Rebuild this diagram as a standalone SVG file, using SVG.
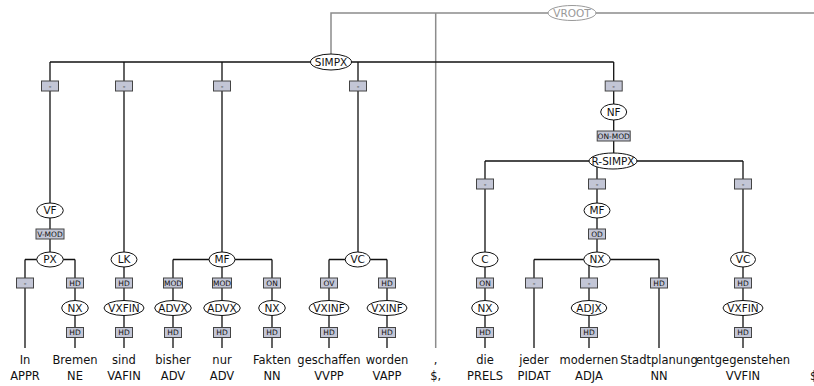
<svg xmlns="http://www.w3.org/2000/svg" width="814" height="386" viewBox="0 0 814 386">
<style>
.e{stroke:#111;stroke-width:1.3;fill:none}
.g{stroke:#8c8c8c;stroke-width:1.5;fill:none}
.n ellipse{fill:#fff;stroke:#111;stroke-width:1}
.n text{font-family:"DejaVu Sans",Verdana,sans-serif;font-size:10.5px;text-anchor:middle;fill:#111}
.v ellipse{fill:#fff;stroke:#999;stroke-width:1}
.v text{font-family:"DejaVu Sans",Verdana,sans-serif;font-size:10.5px;text-anchor:middle;fill:#999}
.b rect{fill:#c3c6d6;stroke:#444;stroke-width:1}
.b text{font-family:"DejaVu Sans",Verdana,sans-serif;font-size:7.5px;text-anchor:middle;fill:#111}
.w text{font-family:"DejaVu Sans",Verdana,sans-serif;font-size:11.5px;text-anchor:middle;fill:#111}
</style>
<rect width="814" height="386" fill="#fff"/>
<g id="connectors">
<path class="g" d="M331,62V13H817"/>
<path class="g" d="M435.7,13V348"/>
<path class="g" d="M817,13V348"/>
<path class="e" d="M50,62H613.7"/>
<path class="e" d="M50,62V259.5M124,62V348M222,62V259.5M358,62V259.5M613.7,62V161"/>
<path class="e" d="M25,259.5H75M25,259.5V348M75,259.5V348"/>
<path class="e" d="M173,259.5H272M173,259.5V348M222,259.5V348M272,259.5V348"/>
<path class="e" d="M329,259.5H387M329,259.5V348M387,259.5V348"/>
<path class="e" d="M485,161H743M485,161V348M597,161V259.5M743,161V348"/>
<path class="e" d="M534,259.5H659M534,259.5V348M589,259.5V348M659,259.5V348"/>
</g>
<g id="edge-labels" class="b">
<g id="l1"><rect x="41.5" y="81" width="17" height="10"/><text x="50" y="89">-</text></g>
<g id="l2"><rect x="115.5" y="81" width="17" height="10"/><text x="124" y="89">-</text></g>
<g id="l3"><rect x="213.5" y="81" width="17" height="10"/><text x="222" y="89">-</text></g>
<g id="l4"><rect x="349.5" y="81" width="17" height="10"/><text x="358" y="89">-</text></g>
<g id="l5"><rect x="605.2" y="81" width="17" height="10"/><text x="613.7" y="89">-</text></g>
<g id="l6"><rect x="597.2" y="131" width="33" height="10"/><text x="613.7" y="138.7">ON-MOD</text></g>
<g id="l7"><rect x="476.5" y="179" width="17" height="10"/><text x="485" y="187">-</text></g>
<g id="l8"><rect x="588.5" y="179" width="17" height="10"/><text x="597" y="187">-</text></g>
<g id="l9"><rect x="734.5" y="179" width="17" height="10"/><text x="743" y="187">-</text></g>
<g id="l10"><rect x="36" y="229" width="28" height="10"/><text x="50" y="236.7">V-MOD</text></g>
<g id="l11"><rect x="588.5" y="229" width="17" height="10"/><text x="597" y="236.7">OD</text></g>
<g id="l12"><rect x="16.5" y="278" width="17" height="10"/><text x="25" y="286">-</text></g>
<g id="l13"><rect x="66.5" y="278" width="17" height="10"/><text x="75" y="285.7">HD</text></g>
<g id="l14"><rect x="115.5" y="278" width="17" height="10"/><text x="124" y="285.7">HD</text></g>
<g id="l15"><rect x="163.5" y="278" width="19" height="10"/><text x="173" y="285.7">MOD</text></g>
<g id="l16"><rect x="212.5" y="278" width="19" height="10"/><text x="222" y="285.7">MOD</text></g>
<g id="l17"><rect x="263.5" y="278" width="17" height="10"/><text x="272" y="285.7">ON</text></g>
<g id="l18"><rect x="320.5" y="278" width="17" height="10"/><text x="329" y="285.7">OV</text></g>
<g id="l19"><rect x="378.5" y="278" width="17" height="10"/><text x="387" y="285.7">HD</text></g>
<g id="l20"><rect x="476.5" y="278" width="17" height="10"/><text x="485" y="285.7">ON</text></g>
<g id="l21"><rect x="525.5" y="278" width="17" height="10"/><text x="534" y="286">-</text></g>
<g id="l22"><rect x="580.5" y="278" width="17" height="10"/><text x="589" y="286">-</text></g>
<g id="l23"><rect x="650.5" y="278" width="17" height="10"/><text x="659" y="285.7">HD</text></g>
<g id="l24"><rect x="734.5" y="278" width="17" height="10"/><text x="743" y="285.7">HD</text></g>
<g id="l25"><rect x="66.5" y="327.5" width="17" height="10"/><text x="75" y="335.2">HD</text></g>
<g id="l26"><rect x="115.5" y="327.5" width="17" height="10"/><text x="124" y="335.2">HD</text></g>
<g id="l27"><rect x="164.5" y="327.5" width="17" height="10"/><text x="173" y="335.2">HD</text></g>
<g id="l28"><rect x="213.5" y="327.5" width="17" height="10"/><text x="222" y="335.2">HD</text></g>
<g id="l29"><rect x="263.5" y="327.5" width="17" height="10"/><text x="272" y="335.2">HD</text></g>
<g id="l30"><rect x="320.5" y="327.5" width="17" height="10"/><text x="329" y="335.2">HD</text></g>
<g id="l31"><rect x="378.5" y="327.5" width="17" height="10"/><text x="387" y="335.2">HD</text></g>
<g id="l32"><rect x="476.5" y="327.5" width="17" height="10"/><text x="485" y="335.2">HD</text></g>
<g id="l33"><rect x="580.5" y="327.5" width="17" height="10"/><text x="589" y="335.2">HD</text></g>
<g id="l34"><rect x="734.5" y="327.5" width="17" height="10"/><text x="743" y="335.2">HD</text></g>
</g>
<g id="n-vroot" class="v"><ellipse cx="572" cy="13" rx="24" ry="7.5"/><text x="572" y="16.7">VROOT</text></g>
<g id="n-simpx" class="n"><ellipse cx="331" cy="62" rx="20.5" ry="8"/><text x="331" y="65.7">SIMPX</text></g>
<g id="n-nf" class="n"><ellipse cx="613.7" cy="112" rx="13" ry="8"/><text x="613.7" y="115.7">NF</text></g>
<g id="n-rsimpx" class="n"><ellipse cx="613" cy="161" rx="24" ry="8"/><text x="613" y="164.7">R-SIMPX</text></g>
<g id="n-vf" class="n"><ellipse cx="50" cy="210.5" rx="13.3" ry="7.5"/><text x="50" y="214.2">VF</text></g>
<g id="n-mf2" class="n"><ellipse cx="597" cy="210.5" rx="13" ry="7.5"/><text x="597" y="214.2">MF</text></g>
<g id="n-px" class="n"><ellipse cx="50" cy="259.5" rx="13.3" ry="7.5"/><text x="50" y="263.2">PX</text></g>
<g id="n-lk" class="n"><ellipse cx="124" cy="259.5" rx="13" ry="7.5"/><text x="124" y="263.2">LK</text></g>
<g id="n-mf" class="n"><ellipse cx="222" cy="259.5" rx="13" ry="7.5"/><text x="222" y="263.2">MF</text></g>
<g id="n-vc" class="n"><ellipse cx="357.7" cy="259.5" rx="12.5" ry="7.5"/><text x="357.7" y="263.2">VC</text></g>
<g id="n-c" class="n"><ellipse cx="485" cy="259.5" rx="13" ry="7.5"/><text x="485" y="263.2">C</text></g>
<g id="n-nx3" class="n"><ellipse cx="597" cy="259.5" rx="13.3" ry="7.5"/><text x="597" y="263.2">NX</text></g>
<g id="n-vc2" class="n"><ellipse cx="743" cy="259.5" rx="12.5" ry="7.5"/><text x="743" y="263.2">VC</text></g>
<g id="n-nx1" class="n"><ellipse cx="75" cy="308" rx="13.3" ry="7.5"/><text x="75" y="311.7">NX</text></g>
<g id="n-vxfin1" class="n"><ellipse cx="124" cy="308" rx="20" ry="7.5"/><text x="124" y="311.7">VXFIN</text></g>
<g id="n-advx1" class="n"><ellipse cx="173" cy="308" rx="18.3" ry="7.5"/><text x="173" y="311.7">ADVX</text></g>
<g id="n-advx2" class="n"><ellipse cx="222" cy="308" rx="18.3" ry="7.5"/><text x="222" y="311.7">ADVX</text></g>
<g id="n-nx2" class="n"><ellipse cx="272" cy="308" rx="13.3" ry="7.5"/><text x="272" y="311.7">NX</text></g>
<g id="n-vxinf1" class="n"><ellipse cx="329" cy="308" rx="20" ry="7.5"/><text x="329" y="311.7">VXINF</text></g>
<g id="n-vxinf2" class="n"><ellipse cx="387" cy="308" rx="20" ry="7.5"/><text x="387" y="311.7">VXINF</text></g>
<g id="n-nx4" class="n"><ellipse cx="485" cy="308" rx="13.3" ry="7.5"/><text x="485" y="311.7">NX</text></g>
<g id="n-adjx" class="n"><ellipse cx="589" cy="308" rx="17.8" ry="7.5"/><text x="589" y="311.7">ADJX</text></g>
<g id="n-vxfin2" class="n"><ellipse cx="743" cy="308" rx="20" ry="7.5"/><text x="743" y="311.7">VXFIN</text></g>
<g id="tokens" class="w">
<g id="t1"><text x="25" y="363.5">In</text><text x="25" y="379.5">APPR</text></g>
<g id="t2"><text x="75" y="363.5">Bremen</text><text x="75" y="379.5">NE</text></g>
<g id="t3"><text x="124" y="363.5">sind</text><text x="124" y="379.5">VAFIN</text></g>
<g id="t4"><text x="173" y="363.5">bisher</text><text x="173" y="379.5">ADV</text></g>
<g id="t5"><text x="222" y="363.5">nur</text><text x="222" y="379.5">ADV</text></g>
<g id="t6"><text x="272" y="363.5">Fakten</text><text x="272" y="379.5">NN</text></g>
<g id="t7"><text x="329" y="363.5">geschaffen</text><text x="329" y="379.5">VVPP</text></g>
<g id="t8"><text x="387" y="363.5">worden</text><text x="387" y="379.5">VAPP</text></g>
<g id="t9"><text x="435.7" y="363.5">,</text><text x="435.7" y="379.5">$,</text></g>
<g id="t10"><text x="485" y="363.5">die</text><text x="485" y="379.5">PRELS</text></g>
<g id="t11"><text x="534" y="363.5">jeder</text><text x="534" y="379.5">PIDAT</text></g>
<g id="t12"><text x="589" y="363.5">modernen</text><text x="589" y="379.5">ADJA</text></g>
<g id="t13"><text x="659" y="363.5">Stadtplanung</text><text x="659" y="379.5">NN</text></g>
<g id="t14"><text x="743" y="363.5">entgegenstehen</text><text x="743" y="379.5">VVFIN</text></g>
<g id="t15"><text x="818" y="363.5">.</text><text x="815.5" y="379.5">$.</text></g>
</g>
</svg>
